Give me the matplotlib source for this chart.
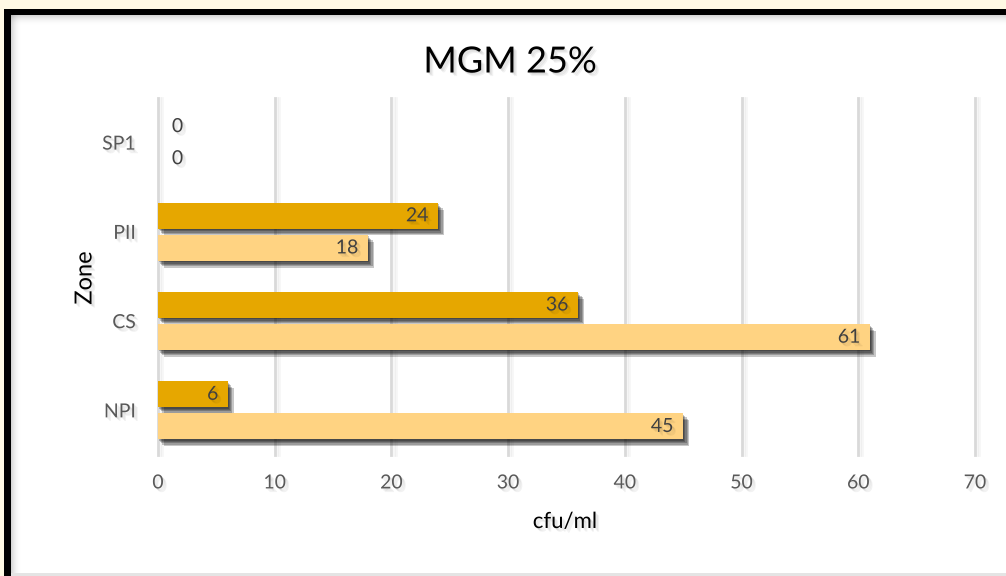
import matplotlib
matplotlib.use("Agg")
import matplotlib.pyplot as plt
import matplotlib.patheffects as pe
from matplotlib.patches import Rectangle
import numpy as np

plt.rcParams['font.family'] = ['Lato', 'DejaVu Sans']

# Data
zones = ["NPI", "CS", "PII", "SP1"]
series_a = [6, 36, 24, 0]      # upper bar of each pair
series_b = [45, 61, 18, 0]     # lower bar of each pair
x_ticks = [0, 10, 20, 30, 40, 50, 60, 70]

title = "MGM 25%"
x_label = "cfu/ml"
y_label = "Zone"

color_a = "#E6A700"
color_b = "#FFD382"
tick_color = "#595959"
label_color = "#404040"

W, H, DPI = 1006, 576, 100
fig = plt.figure(figsize=(W / DPI, H / DPI), dpi=DPI)
fig.patch.set_facecolor("#FFF9E4")

def px(x, y, w, h):
    return (x / W, 1 - (y + h) / H, w / W, h / H)

# Frame: black border, white panel, soft inner shading
x0, y0, w0, h0 = px(4, 9, 1010, 580)
fig.add_artist(Rectangle((x0, y0), w0, h0, transform=fig.transFigure,
                         facecolor="black", edgecolor="none", zorder=0))
x1, y1, w1, h1 = px(11, 15, 1010, 580)
fig.add_artist(Rectangle((x1, y1), w1, h1, transform=fig.transFigure,
                         facecolor="white", edgecolor="none", zorder=0))
for i in range(10):
    a = 0.32 * (1 - i / 10) ** 2
    xs, ys, ws, hs = px(11, 15 + i, 1010, 1)
    fig.add_artist(Rectangle((xs, ys), ws, hs, transform=fig.transFigure,
                             facecolor="#808080", alpha=a, edgecolor="none", zorder=0))
    xs, ys, ws, hs = px(11 + i, 15, 1, 580)
    fig.add_artist(Rectangle((xs, ys), ws, hs, transform=fig.transFigure,
                             facecolor="#808080", alpha=a, edgecolor="none", zorder=0))
xs, ys, ws, hs = px(11, 573, 1010, 3)
fig.add_artist(Rectangle((xs, ys), ws, hs, transform=fig.transFigure,
                         facecolor="#E4E4E4", edgecolor="none", zorder=0))

ax = fig.add_axes([158 / W, 1 - 455 / H, (975 - 158) / W, (455 - 98) / H])
ax.set_facecolor("none")

y = np.arange(len(zones))
bar_h = 0.29
offset = 0.18

# Soft drop shadow built from several faint offset copies
bar_shadow = [pe.SimplePatchShadow(offset=(d, -d * 1.2), shadow_rgbFace="#000000", alpha=0.22)
              for d in (0.8, 1.6, 2.4, 3.2, 4.0)] + [pe.Normal()]
text_shadow = [pe.SimplePatchShadow(offset=(d, -d), shadow_rgbFace="#000000", alpha=0.05)
               for d in (1.0, 1.8, 2.6)] + [pe.Normal()]

bars_a = ax.barh(y + offset, series_a, height=bar_h, color=color_a, zorder=3)
bars_b = ax.barh(y - offset, series_b, height=bar_h, color=color_b, zorder=3)
for bars in (bars_a, bars_b):
    for b in bars:
        if b.get_width() > 0:
            b.set_path_effects(bar_shadow)

# Value labels
for bars, vals in ((bars_a, series_a), (bars_b, series_b)):
    for b, v in zip(bars, vals):
        yc = b.get_y() + b.get_height() / 2
        if v > 0:
            ax.annotate(str(v), (v, yc), xytext=(-7, 0), textcoords="offset points",
                        ha="right", va="center", fontsize=14, color=label_color,
                        path_effects=text_shadow, zorder=5)
        else:
            ax.annotate(str(v), (v, yc), xytext=(10, 0), textcoords="offset points",
                        ha="left", va="center", fontsize=14, color=label_color,
                        path_effects=text_shadow, zorder=5)

ax.set_xlim(0, 70)
ax.set_ylim(-0.5, len(zones) - 0.5)
ax.set_xticks(x_ticks)
ax.set_yticks(y)
ax.set_yticklabels(zones)

grid_fx = [pe.SimpleLineShadow(offset=(d, 0), shadow_color="#000000", alpha=0.035, linewidth=2)
           for d in (1.5, 3.0)] + [pe.Normal()]
for t in x_ticks:
    ax.axvline(t, color="#D9D9D9", linewidth=2, zorder=1, path_effects=grid_fx, clip_on=False)

for s in ax.spines.values():
    s.set_visible(False)
ax.tick_params(axis="both", length=0, labelsize=14, labelcolor=tick_color)
ax.tick_params(axis="x", pad=14)
ax.tick_params(axis="y", pad=16)
for lbl in ax.get_xticklabels() + ax.get_yticklabels():
    lbl.set_path_effects(text_shadow)

fig.text(565 / W, 1 - 522 / H, x_label, ha="center", va="center", fontsize=16,
         color="black", path_effects=text_shadow)
fig.text(85 / W, 1 - 278 / H, y_label, ha="center", va="center", fontsize=17,
         color="black", rotation=90, path_effects=text_shadow)
fig.text(510 / W, 1 - 62 / H, title, ha="center", va="center", fontsize=26,
         color="black", path_effects=text_shadow)

fig.savefig("out.png", dpi=DPI, facecolor=fig.get_facecolor())
